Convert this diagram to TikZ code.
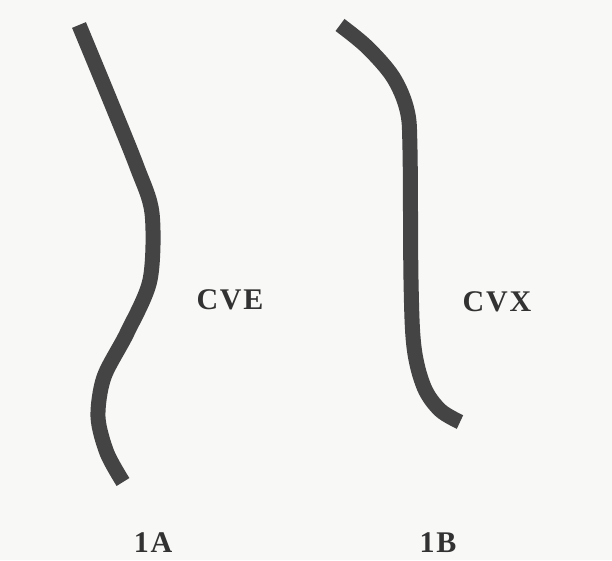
\documentclass[tikz,border=0pt]{standalone}
\usepackage{fontspec}
\setmainfont{Liberation Serif}[LetterSpace=6]
\definecolor{inkgray}{RGB}{68,68,68}
\definecolor{textgray}{RGB}{50,50,50}
\definecolor{paper}{RGB}{248,248,246}
\tikzset{
  curveline/.style={line width=15pt, inkgray, line cap=butt},
  caption/.style={font=\fontsize{30}{33}\selectfont\bfseries, text=textgray, inner sep=0pt}
}
\begin{document}
\begin{tikzpicture}[x=10pt,y=10pt]

% Background
\fill[paper] (0,0) rectangle (61.2,56);
\useasboundingbox (0,0) rectangle (61.2,56);

% Curve 1A
\draw[curveline] plot[smooth, tension=0.5] coordinates {
  (7.9,53.5) (11.0,46.0) (13.7,39.3) (15.2,34.7) (15.0,28.0)
  (12.7,22.7) (10.4,18.3) (9.8,14.3) (10.7,10.7) (12.3,7.8)};

% Curve 1B
\draw[curveline] plot[smooth, tension=0.55] coordinates {
  (34.0,53.5) (36.7,51.3) (39.3,48.3) (40.7,45.0) (41.0,41.0)
  (41.1,28.0) (41.4,21.3) (42.4,17.3) (44.0,15.0) (46.0,13.8)};

% Labels
\node[caption] (cve) at (23.0,26.0) {CVE};
\node[caption] (cvx) at (49.7,25.8) {CVX};
\node[caption] (lblA) at (15.3,1.7) {1A};
\node[caption] (lblB) at (43.8,1.7) {1B};

\end{tikzpicture}
\end{document}
